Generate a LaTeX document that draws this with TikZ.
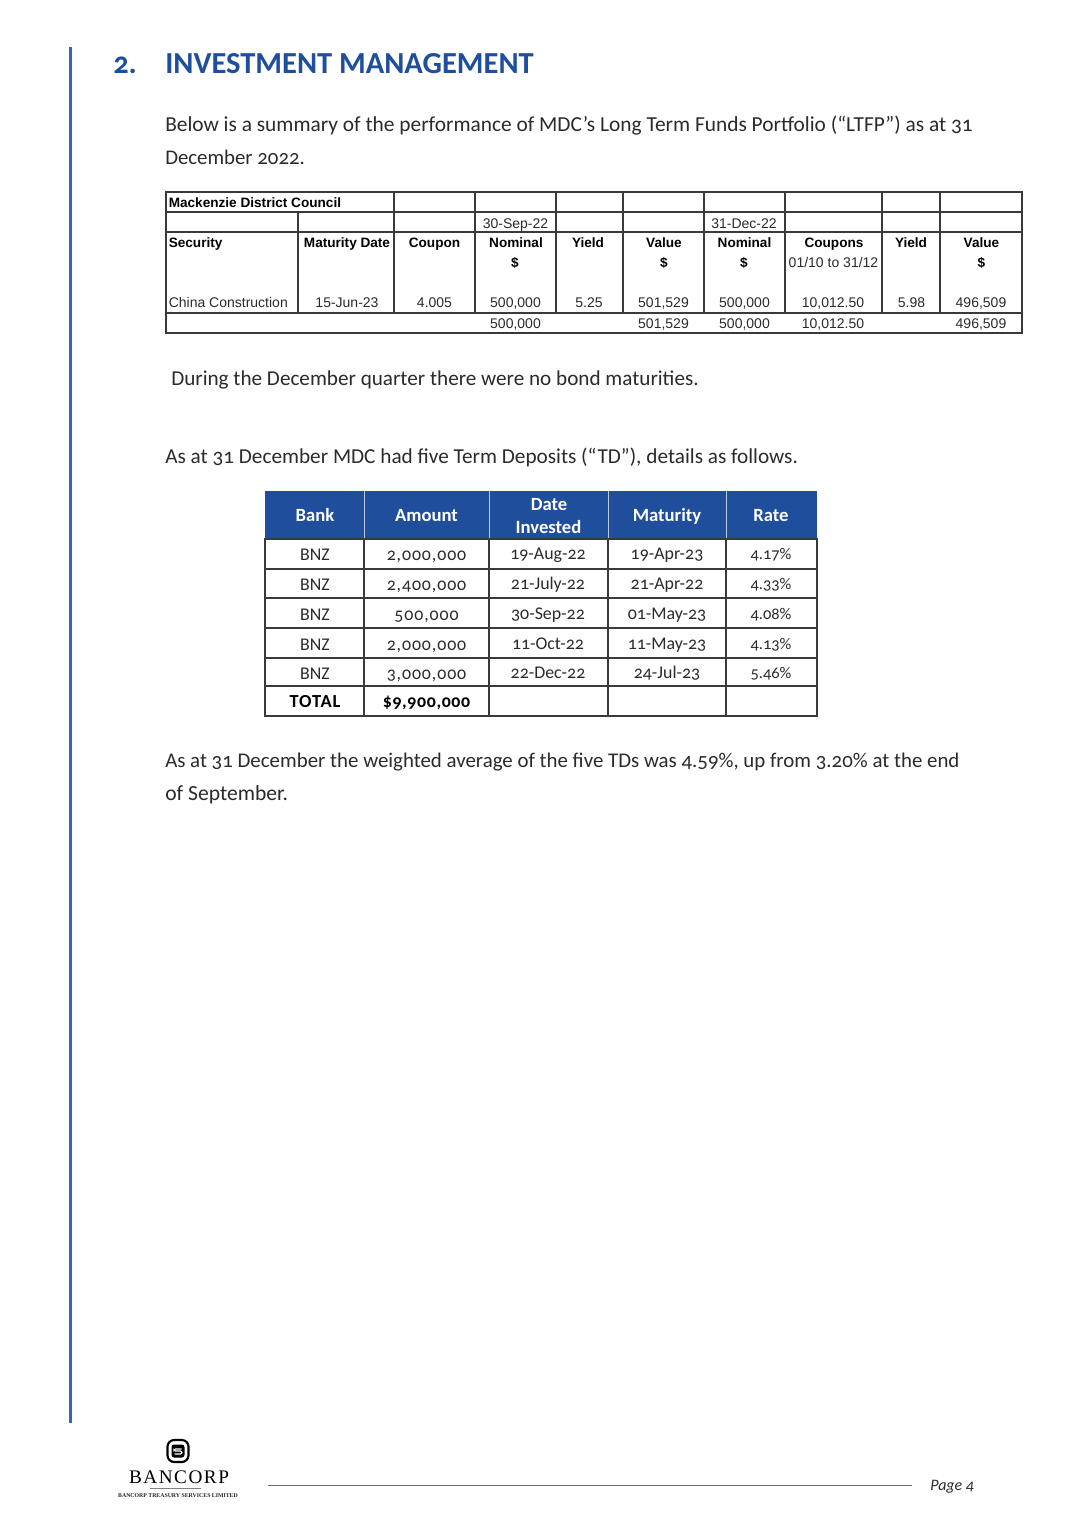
\documentclass[tikz,border=0pt]{standalone}
\usepackage{fontspec}
\setmainfont[Numbers=OldStyle]{Carlito}
\newfontfamily\arialf{Liberation Sans}
\newfontfamily\timesf{Liberation Serif}
\definecolor{headblue}{HTML}{1F4E9C}
\definecolor{barblue}{HTML}{3566B0}
\definecolor{inktext}{HTML}{2B2B2B}
\definecolor{ruleink}{HTML}{3A3A3A}
\newcommand{\bodysize}[1]{\fontsize{#1}{18}\selectfont}
\tikzset{
  x=0.75pt,y=-0.75pt,
  bodyline/.style={anchor=base west,inner sep=0pt,text=inktext,font=\bodysize{15.8}},
  headline/.style={anchor=base west,inner sep=0pt,text=headblue,font=\fontsize{22.9}{24}\selectfont\bfseries},
  tone/.style={inner sep=0pt,anchor=base,text=inktext,font=\arialf\fontsize{10.5}{12}\selectfont},
  toneb/.style={tone,font=\arialf\fontsize{10.2}{12}\selectfont\bfseries,text=black},
  tonerule/.style={draw=ruleink,line width=0.8pt},
  ttwo/.style={inner sep=0pt,anchor=base,text=inktext,font=\fontsize{13.4}{15}\selectfont},
  ttwonum/.style={ttwo,font=\fontsize{13.4}{15}\selectfont\addfontfeature{LetterSpace=5}},
  ttworate/.style={ttwo,font=\fontsize{12.3}{15}\selectfont},
  ttwob/.style={ttwo,text=black,font=\fontsize{13.8}{15}\selectfont\bfseries\addfontfeature{LetterSpace=5}},
  ttwobn/.style={ttwo,text=black,font=\fontsize{13.4}{15}\selectfont\bfseries\addfontfeature{LetterSpace=3.5}},
  ttwoh/.style={ttwo,text=white,font=\fontsize{14}{15}\selectfont\bfseries},
  ttworule/.style={draw=ruleink,line width=1.15pt},
}
\begin{document}
\begin{tikzpicture}
\useasboundingbox (0,0) rectangle (1069,1527);
\fill[white] (0,0) rectangle (1069,1527);
% side bar
\coordinate (barT) at (70.5,47);
\coordinate (barB) at (70.5,1423);
\draw[barblue,line width=2.3pt] (barT) -- (barB);
% heading
\node[headline] (hnum) at (113,74) {2.};
\node[headline] (htitle) at (165,74) {INVESTMENT MANAGEMENT};
% body text
\node[bodyline,font=\bodysize{16.03}] (p1a) at (165,131) {Below is a summary of the performance of MDC’s Long Term Funds Portfolio (“LTFP”) as at 31};
\node[bodyline,font=\bodysize{15.6}] (p1b) at (165,164) {December 2022.};
\node[bodyline,font=\bodysize{15.87}] (p2) at (171,385) {During the December quarter there were no bond maturities.};
\node[bodyline,font=\bodysize{15.93}] (p3) at (165,463) {As at 31 December MDC had five Term Deposits (“TD”), details as follows.};
\node[bodyline,font=\bodysize{15.66}] (p4a) at (165,767) {As at 31 December the weighted average of the five TDs was 4.59\%, up from 3.20\% at the end};
\node[bodyline,font=\bodysize{16.2}] (p4b) at (165,800) {of September.};
% table 1 rules
\draw[tonerule] (166,192) rectangle (1022,333);
\draw[tonerule] (166,212) -- (1022,212);
\draw[tonerule] (166,232) -- (1022,232);
\draw[tonerule] (166,313) -- (1022,313);
\draw[tonerule] (298,212) -- (298,313);
\foreach \cx in {394,475,556,623,704,785,882,940}
  \draw[tonerule] (\cx,192) -- (\cx,313);
% table 1 text
\node[toneb,anchor=base west] (ta) at (168.5,207) {Mackenzie District Council};
\node[tone] (d1) at (515.5,228) {30-Sep-22};
\node[tone] (d2) at (744,228) {31-Dec-22};
\coordinate (d1a) at (484,231); \coordinate (d1b) at (547,231);
\coordinate (d2a) at (711,231); \coordinate (d2b) at (777,231);
\draw[ruleink,line width=0.5pt] (d1a) -- (d1b);
\draw[ruleink,line width=0.5pt] (d2a) -- (d2b);
\node[toneb,anchor=base west] (h1) at (168.5,247) {Security};
\node[toneb] (h2) at (347,247) {Maturity Date};
\node[toneb] (h3) at (434.5,247) {Coupon};
\node[toneb] (h4) at (516,247) {Nominal};
\node[toneb] (h5) at (588,247) {Yield};
\node[toneb] (h6) at (664,247) {Value};
\node[toneb] (h7) at (744.5,247) {Nominal};
\node[toneb] (h8) at (834,247) {Coupons};
\node[toneb] (h9) at (911,247) {Yield};
\node[toneb] (h10) at (981.5,247) {Value};
\node[toneb] (s1) at (515,267) {\$};
\node[toneb] (s2) at (664,267) {\$};
\node[toneb] (s3) at (744,267) {\$};
\node[tone] (s4) at (833.5,267) {01/10 to 31/12};
\node[toneb] (s5) at (981.5,267) {\$};
\node[tone,anchor=base west] (r1) at (168.5,307) {China Construction};
\node[tone] (r2) at (347,307) {15-Jun-23};
\node[tone] (r3) at (434.5,307) {4.005};
\node[tone] (r4) at (515.5,307) {500,000};
\node[tone] (r5) at (589,307) {5.25};
\node[tone] (r6) at (663.5,307) {501,529};
\node[tone] (r7) at (744.5,307) {500,000};
\node[tone] (r8) at (833,307) {10,012.50};
\node[tone] (r9) at (911.5,307) {5.98};
\node[tone] (r10) at (981,307) {496,509};
\node[tone] (q4) at (515.5,328.5) {500,000};
\node[tone] (q6) at (663.5,328.5) {501,529};
\node[tone] (q7) at (744.5,328.5) {500,000};
\node[tone] (q8) at (833,328.5) {10,012.50};
\node[tone] (q10) at (981,328.5) {496,509};
% table 2
\fill[headblue] (265,491) rectangle (817,539);
\foreach \cx in {364,489,608,726}
  \draw[white!70!headblue,line width=0.5pt] (\cx,491) -- (\cx,539);
\draw[ttworule] (265,539) rectangle (817,716);
\foreach \ry in {569,598,628,658,686}
  \draw[ttworule] (265,\ry) -- (817,\ry);
\foreach \cx in {364,489,608,726}
  \draw[ttworule] (\cx,539) -- (\cx,716);
\node[ttwoh] (b0) at (315,521) {Bank};
\node[ttwoh] (a0) at (426.5,521) {Amount};
\node[ttwoh] (i0a) at (549,510) {Date};
\node[ttwoh] (i0b) at (548.5,533) {Invested};
\node[ttwoh] (m0) at (667,521) {Maturity};
\node[ttwoh] (t0) at (771,521) {Rate};
\node[ttwo] (b1) at (315,560) {BNZ};
\node[ttwonum] (a1) at (426.5,560) {2,000,000};
\node[ttwo] (i1) at (548,559) {19-Aug-22};
\node[ttwo] (m1) at (667,559) {19-Apr-23};
\node[ttworate] (t1) at (771,559) {4.17\%};
\node[ttwo] (b2) at (315,590) {BNZ};
\node[ttwonum] (a2) at (426.5,590) {2,400,000};
\node[ttwo] (i2) at (548,589) {21-July-22};
\node[ttwo] (m2) at (667,589) {21-Apr-22};
\node[ttworate] (t2) at (771,589) {4.33\%};
\node[ttwo] (b3) at (315,620) {BNZ};
\node[ttwonum] (a3) at (426.5,620) {500,000};
\node[ttwo] (i3) at (548,619) {30-Sep-22};
\node[ttwo] (m3) at (667,619) {01-May-23};
\node[ttworate] (t3) at (771,619) {4.08\%};
\node[ttwo] (b4) at (315,650) {BNZ};
\node[ttwonum] (a4) at (426.5,650) {2,000,000};
\node[ttwo] (i4) at (548,649) {11-Oct-22};
\node[ttwo] (m4) at (667,649) {11-May-23};
\node[ttworate] (t4) at (771,649) {4.13\%};
\node[ttwo] (b5) at (315,679) {BNZ};
\node[ttwonum] (a5) at (426.5,679) {3,000,000};
\node[ttwo] (i5) at (548,678) {22-Dec-22};
\node[ttwo] (m5) at (667,678) {24-Jul-23};
\node[ttworate] (t5) at (771,678) {5.46\%};
\node[ttwob] (b6) at (315,707) {TOTAL};
\node[ttwobn] (a6) at (426.5,707) {\$9,900,000};
% footer
\coordinate (fa) at (268,1485.5);
\coordinate (fb) at (912,1485.5);
\draw[gray!85!black,line width=1.1pt] (fa) -- (fb);
\node[anchor=base west,inner sep=0pt,text=inktext,font=\fontsize{12}{14}\selectfont\itshape] (pg) at (930,1490) {Page 4};
% logo
\draw[black,line width=1.6pt,rounded corners=5pt] (167.5,1440) rectangle (188.5,1462);
\fill[black,rounded corners=2pt] (171.5,1444.5) rectangle (184.5,1457.5);
\draw[white,line width=0.8pt,rounded corners=1pt] (181.5,1449) -- (174,1449) -- (174,1451) -- (182,1451) -- (182,1454) -- (174.5,1454);
\node[inner sep=0pt,anchor=base,text=black,font=\timesf\fontsize{14.4}{15}\selectfont\addfontfeature{LetterSpace=8}] (lg) at (179,1483) {BANCORP};
\coordinate (lga) at (150,1488.5); \coordinate (lgb) at (201,1488.5);
\draw[gray,line width=0.3pt] (lga) -- (lgb);
\node[inner sep=0pt,anchor=base,text=black!85,font=\timesf\fontsize{4.36}{5}\selectfont\bfseries] (lgs) at (178,1497) {BANCORP TREASURY SERVICES LIMITED};
\end{tikzpicture}
\end{document}
